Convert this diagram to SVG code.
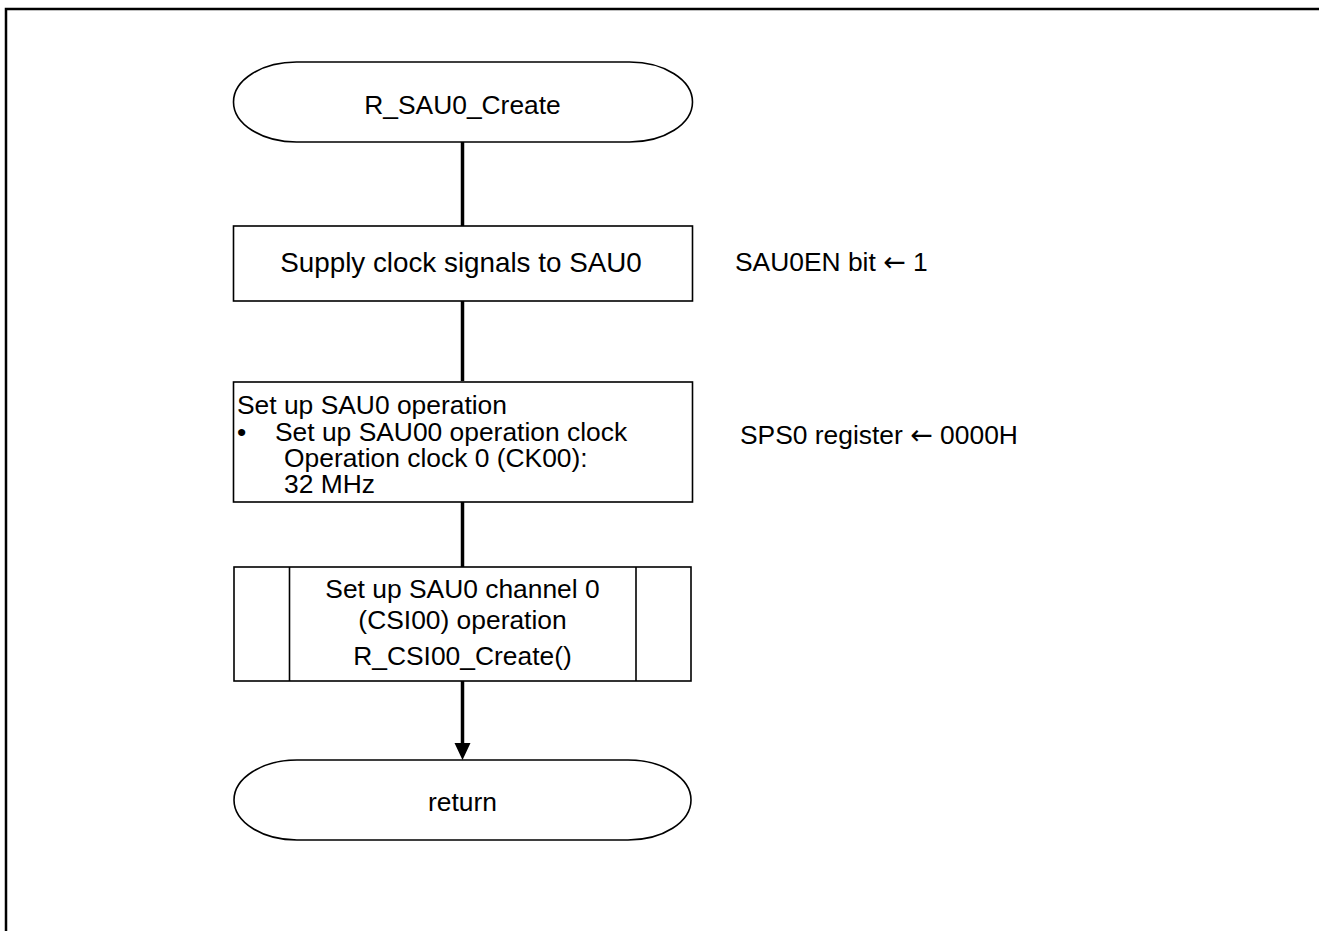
<svg xmlns="http://www.w3.org/2000/svg" width="1319" height="931" viewBox="0 0 1319 931">
<style>
.shape{fill:#fff;stroke:#000;stroke-width:1.6}
.t{font-family:"Liberation Sans",Arial,sans-serif;font-size:26.4px;fill:#000}
.big{font-size:27.8px}
.c{text-anchor:middle}
.ar{font-family:"DejaVu Sans",sans-serif;font-size:27px}
.conn{stroke:#000;stroke-width:3.5;fill:none}
</style>
<rect x="0" y="0" width="1319" height="931" fill="#fff"/>
<path d="M6,931 V9 H1319" fill="none" stroke="#000" stroke-width="2.5"/>
<g id="connectors">
<line class="conn" x1="462.5" y1="142" x2="462.5" y2="226"/>
<line class="conn" x1="462.5" y1="301" x2="462.5" y2="381"/>
<line class="conn" x1="462.5" y1="502" x2="462.5" y2="567"/>
<line class="conn" x1="462.5" y1="681" x2="462.5" y2="744"/>
<path d="M454.5,743 L470.5,743 L462.5,760 Z" fill="#000"/>
</g>
<g id="start">
<rect class="shape" x="233.5" y="62" width="459" height="80" rx="63" ry="40"/>
<text class="t c" x="462.5" y="114">R_SAU0_Create</text>
</g>
<g id="supply">
<rect class="shape" x="233.5" y="226" width="459" height="75"/>
<text class="t big c" x="461" y="272">Supply clock signals to SAU0</text>
<text class="t" x="735" y="271">SAU0EN bit <tspan class="ar">←</tspan> 1</text>
</g>
<g id="setup">
<rect class="shape" x="233.5" y="382" width="459" height="120"/>
<text class="t" x="237" y="414">Set up SAU0 operation</text>
<text class="t" x="237" y="441">•</text>
<text class="t" x="275" y="441">Set up SAU00 operation clock</text>
<text class="t" x="284" y="467">Operation clock 0 (CK00):</text>
<text class="t" x="284" y="493">32 MHz</text>
<text class="t" x="740" y="444">SPS0 register <tspan class="ar">←</tspan> 0000H</text>
</g>
<g id="csi00">
<rect class="shape" x="234" y="567" width="457" height="114"/>
<line class="shape" x1="289.5" y1="567" x2="289.5" y2="681"/>
<line class="shape" x1="636" y1="567" x2="636" y2="681"/>
<text class="t c" x="462.5" y="598">Set up SAU0 channel 0</text>
<text class="t c" x="462.5" y="629">(CSI00) operation</text>
<text class="t c" x="462.5" y="665">R_CSI00_Create()</text>
</g>
<g id="return">
<rect class="shape" x="234" y="760" width="457" height="80" rx="63" ry="40"/>
<text class="t c" x="462.5" y="811">return</text>
</g>
</svg>
